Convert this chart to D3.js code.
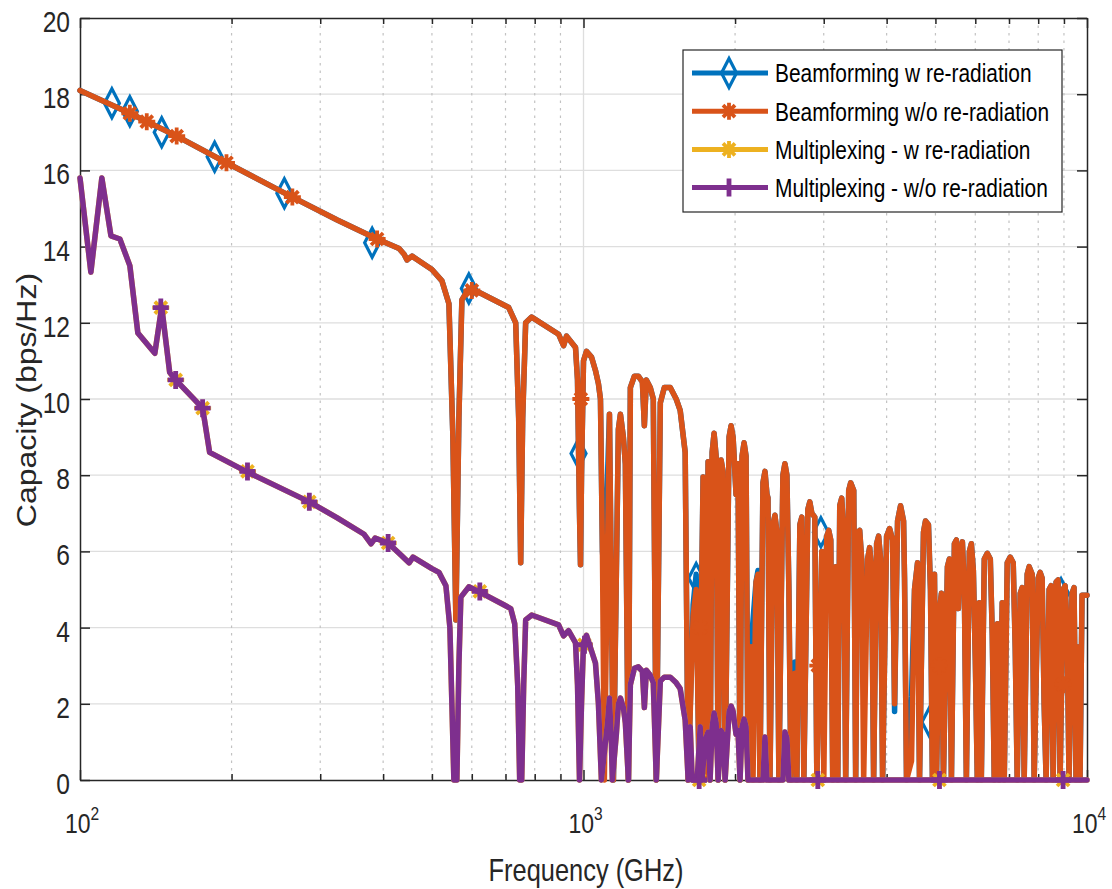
<!DOCTYPE html>
<html>
<head>
<meta charset="utf-8">
<script src="https://cdn.jsdelivr.net/npm/d3@7"></script>
<style>
  body { margin: 0; background: #fff; }
  text { font-family: "Liberation Sans", Arial, Helvetica, sans-serif; }
</style>
</head>
<body>
<svg id="chart" width="1112" height="889"></svg>
<script>
// ---- data (frequency in GHz, capacity in bps/Hz) ----

// beamforming curves share one frequency grid
const bfFreq = [
  100, 125.6, 155.6, 195.4, 264.1, 324.3, 389.1, 430.2, 440.2, 446.2, 456.5, 500.0, 523.4, 540.4, 550.3,
  557.9, 565.6, 573.4, 591.9, 619.6, 710.4, 733.4, 743.5, 750.3, 757.2, 767.6, 788.9, 892.3, 912.9, 925.4,
  964.2, 973.0, 981.9, 986.4, 990.9, 1000, 1013.8, 1037.2, 1056.2, 1070.7, 1080.6, 1090.5, 1100,
  1126, 1146.6, 1173, 1184, 1200, 1211, 1228, 1239, 1262, 1285, 1309, 1321, 1333, 1357, 1376, 1395,
  1421, 1447, 1487, 1528, 1556, 1592, 1614,
  1651, 1674, 1697, 1728, 1744, 1768, 1784, 1801, 1817, 1834, 1851, 1876, 1893, 1911, 1946, 1964, 1982,
  2009, 2027, 2046, 2065, 2084, 2103, 2122, 2151, 2171, 2201, 2221, 2241, 2272, 2293, 2314, 2325, 2346,
  2378, 2400, 2422, 2444, 2489, 2512, 2535, 2558, 2582, 2629, 2653,
  2690, 2714, 2739, 2790, 2815, 2841, 2880, 2907, 2974, 3001, 3042, 3070, 3098, 3126, 3170, 3199, 3228,
  3257, 3287, 3317, 3363, 3394, 3441, 3472, 3504, 3536, 3568, 3601, 3667, 3701, 3735, 3769, 3821, 3856,
  3891, 3927, 3999, 4054, 4110, 4148, 4205, 4263, 4322, 4341, 4381,
  4482, 4544, 4607, 4649, 4734, 4778, 4843, 4888, 4932, 4978, 5023, 5093, 5139, 5186, 5282, 5330, 5379,
  5453, 5503, 5553, 5604, 5656, 5707, 5760, 5839, 5893, 5947, 6001, 6056, 6111, 6167, 6252, 6338, 6426,
  6485, 6544, 6640, 6695, 6787, 6849, 6944, 7039, 7136, 7202, 7268, 7368, 7435, 7503, 7607, 7676, 7782,
  7853, 7998, 8071, 8145, 8220, 8295, 8409, 8486, 8564, 8682, 8761, 8842, 8964, 9046, 9129, 9212, 9339,
  9425, 9511, 9642, 9686, 9775, 10000
];

const bfWoCap = [
  18.1, 17.5, 16.9, 16.2, 15.3, 14.7, 14.2, 13.95, 13.8, 13.65, 13.75, 13.4, 13.1, 12.5, 9.0,
  4.2, 9.5, 12.6, 12.9, 12.8, 12.4, 12.0, 9.5, 5.7, 9.5, 12.0, 12.15, 11.7, 11.4, 11.65,
  11.35, 10.5, 7.0, 5.65, 8.0, 11.0, 11.25, 11.1, 10.75, 10.4, 10.0, 6.0, 0,
  9.6, 0, 9.2, 9.6, 9.0, 8.3, 0, 10.3, 10.6, 10.6, 10.45, 9.3, 10.5, 10.3, 10.0, 0,
  9.9, 10.3, 10.3, 10.0, 9.7, 8.6, 0,
  4.3, 5.0, 0, 7.95, 0, 8.35, 0, 8.6, 9.1, 8.5, 0, 8.4, 8.1, 0, 9.0, 9.3, 9.0,
  7.5, 8.3, 0, 8.5, 8.85, 8.5, 0, 3.5, 0, 5.2, 5.4, 0, 7.8, 8.1, 7.5, 7.4, 0,
  6.7, 6.95, 6.5, 0, 8.0, 8.3, 8.0, 5.0, 0, 2.8, 0,
  6.7, 6.9, 0, 7.1, 7.3, 7.0, 6.9, 0, 6.0, 0, 6.4, 6.55, 6.3, 0, 5.6, 0, 7.2,
  7.4, 6.5, 0, 7.6, 7.8, 7.6, 0, 6.5, 6.55, 5.8, 0, 5.8, 6.1, 5.5, 0, 6.2, 6.4,
  5.8, 0, 6.4, 6.6, 6.3, 2.0, 6.8, 7.2, 6.8, 5.3, 0,
  0.5, 5.0, 5.7, 0, 6.5, 6.8, 6.7, 5.0, 0, 5.4, 0, 4.45, 4.9, 0, 5.6, 5.8, 0,
  6.2, 6.3, 4.5, 6.0, 6.25, 5.0, 0, 6.0, 6.2, 5.5, 3.15, 0, 4.65, 0, 5.8, 5.95, 5.8,
  3.8, 0, 4.1, 0, 4.65, 0, 5.7, 5.85, 5.7, 3.5, 0, 4.9, 5.05, 0, 5.4, 5.6, 5.4,
  0, 5.3, 5.45, 5.3, 2.0, 0, 5.0, 5.1, 0, 5.2, 5.25, 0, 5.0, 5.1, 4.0, 0, 4.9,
  5.05, 0, 3.5, 0, 4.85, 4.85
];

const bfWCap = [
  18.1, 17.5, 16.9, 16.2, 15.3, 14.7, 14.2, 13.95, 13.8, 13.65, 13.75, 13.4, 13.1, 12.5, 9.0,
  4.2, 9.5, 12.6, 12.9, 12.8, 12.4, 12.0, 9.5, 5.7, 9.5, 12.0, 12.15, 11.7, 11.4, 11.65,
  11.35, 10.5, 7.0, 5.65, 8.0, 11.0, 11.25, 11.1, 10.75, 10.4, 10.0, 6.0, 5.3,
  9.6, 0, 9.2, 9.6, 9.0, 8.3, 0, 10.3, 10.6, 10.6, 10.45, 9.3, 10.5, 10.3, 10.0, 0,
  9.9, 10.3, 10.3, 10.0, 9.7, 8.6, 0,
  4.6, 5.4, 0, 7.95, 0, 8.35, 0, 8.6, 9.1, 8.5, 0, 8.4, 8.1, 0, 9.0, 9.3, 9.0,
  7.5, 8.3, 0, 8.5, 8.85, 8.5, 0, 3.5, 4.2, 5.2, 5.5, 0, 7.8, 8.1, 7.5, 7.4, 0,
  6.7, 6.95, 6.5, 0, 8.0, 8.3, 8.0, 5.0, 0, 3.1, 0,
  6.7, 6.9, 0, 7.1, 7.3, 7.0, 6.9, 0, 6.0, 2.7, 6.4, 6.55, 6.3, 0, 5.6, 0, 7.2,
  7.4, 6.5, 0, 7.6, 7.8, 7.6, 0, 6.5, 6.55, 5.8, 2.4, 5.8, 6.1, 5.5, 0, 6.2, 6.4,
  5.8, 0, 6.4, 6.6, 6.3, 1.8, 6.8, 7.2, 6.8, 5.3, 0,
  2.2, 5.0, 5.7, 0, 6.5, 6.8, 6.7, 5.0, 0, 5.4, 0, 4.45, 4.9, 0, 5.6, 5.8, 0,
  6.2, 6.3, 4.5, 6.0, 6.25, 5.0, 0, 6.0, 6.2, 5.5, 3.15, 0, 4.65, 0, 5.8, 5.95, 5.8,
  3.8, 0, 4.1, 0, 4.65, 0, 5.7, 5.85, 5.7, 3.5, 0, 4.9, 5.05, 0, 5.4, 5.6, 5.4,
  0, 5.3, 5.45, 5.3, 2.0, 0, 5.0, 5.1, 0, 5.2, 5.25, 0, 5.0, 5.1, 4.0, 0, 4.9,
  5.05, 0, 3.5, 0, 4.85, 4.85
];

// multiplexing curves share another grid
const muxFreq = [
  100, 105.1, 110.5, 115.2, 120.0, 125.6, 130.3, 140.8, 145.3, 150.7, 154.9, 175.2, 180.9, 215.1, 285.4,
  324.3, 366.7, 378.6, 385.6, 409.2, 430.2, 450.3, 458.6, 500.0, 516.3, 533.0, 542.8, 547.8, 552.8, 560.4,
  565.6, 570.7, 591.9, 622.4, 694.4, 716.9, 730.1, 740.1, 746.9, 753.8, 760.7, 767.6, 788.9, 892.3, 912.9,
  933.9, 964.2, 973.0, 981.9, 990.9, 1000, 1013.8, 1056.2, 1070.7, 1085.4, 1116, 1126, 1136, 1141, 1162,
  1173, 1184, 1200, 1211, 1228, 1239, 1262, 1285, 1309, 1321, 1333, 1357, 1376, 1395, 1421, 1447, 1487,
  1528, 1556, 1592, 1614, 1629, 1644, 1682, 1705, 1720, 1744, 1768, 1784, 1801, 1817, 1834, 1851, 1876,
  1893, 1911, 1946, 1964, 1982, 2009, 2027, 2046, 2065, 2084, 2103, 2122, 2272, 2293, 2314, 2489, 2512,
  2535, 2558, 10000
];

const muxWoCap = [
  15.8, 13.33, 15.8, 14.28, 14.2, 13.5, 11.73, 11.2, 12.42, 10.7, 10.5, 9.76, 8.6, 8.08, 7.3,
  6.88, 6.45, 6.2, 6.35, 6.22, 5.95, 5.7, 5.85, 5.55, 5.45, 5.1, 4.0, 2.0, 0, 0,
  3.0, 4.8, 5.07, 4.93, 4.6, 4.5, 4.1, 2.5, 0, 0, 2.5, 4.2, 4.33, 4.07, 3.78,
  3.92, 3.6, 2.5, 0, 2.0, 3.6, 3.8, 3.07, 2.0, 0, 1.5, 2.15, 1.0, 0, 1.2,
  2.0, 2.15, 1.9, 1.5, 0, 2.5, 2.93, 2.97, 2.85, 1.9, 2.88, 2.75, 2.55, 0, 2.6, 2.7, 2.7,
  2.55, 2.4, 1.57, 0, 1.4, 0, 0, 1.4, 0, 1.05, 1.26, 0, 1.4, 1.76, 1.5, 0, 1.3,
  1.2, 0, 1.8, 1.94, 1.8, 1.2, 1.3, 0, 1.4, 1.6, 1.4, 0, 0, 1.13, 0, 0, 1.26,
  1.1, 0, 0
];

const muxWCap = [
  15.8, 13.33, 15.8, 14.28, 14.2, 13.5, 11.73, 11.2, 12.42, 10.7, 10.5, 9.76, 8.6, 8.08, 7.3,
  6.88, 6.45, 6.2, 6.35, 6.22, 5.95, 5.7, 5.85, 5.55, 5.45, 5.1, 4.0, 2.0, 0, 0,
  3.0, 4.8, 5.07, 4.93, 4.6, 4.5, 4.1, 2.5, 0, 0, 2.5, 4.2, 4.33, 4.07, 3.78,
  3.92, 3.6, 2.5, 0, 2.0, 3.6, 3.8, 3.07, 2.0, 0, 1.5, 2.15, 1.0, 0, 1.2,
  2.0, 2.15, 1.9, 1.5, 0, 2.5, 2.93, 2.97, 2.85, 1.9, 2.88, 2.75, 2.55, 0, 2.6, 2.7, 2.7,
  2.55, 2.4, 1.57, 0, 1.4, 0, 0, 1.4, 0, 1.05, 1.26, 0, 1.4, 1.76, 1.5, 0, 1.3,
  1.2, 0, 1.8, 1.94, 1.8, 1.2, 1.3, 0, 1.4, 1.6, 1.4, 0, 0, 1.13, 0, 0, 1.26,
  1.1, 0, 0
];

// marker positions
const bfWMarkFreq = [115.7, 125.6, 145.3, 185.1, 254.6, 380.4, 591.9, 977.5, 1674, 2961, 4866, 8881];
const bfWMarkCap = [17.76, 17.55, 17.0, 16.36, 15.4, 14.1, 12.9, 8.57, 5.3, 6.5, 1.52, 4.9];
const bfWoMarkFreq = [125.6, 135.7, 155.6, 195.4, 264.1, 389.1, 600.1, 988, 1705, 2920, 5093, 8964];
const bfWoMarkCap = [17.5, 17.28, 16.9, 16.2, 15.3, 14.2, 12.85, 10.0, 4.0, 3.0, 3.0, 2.5];
const muxMarkFreq = [144.7, 154.9, 175.2, 215.1, 285.4, 409.2, 622.4, 1004.6, 1697, 2920, 5093, 8964];
const muxWMarkCap = [12.4, 10.5, 9.76, 8.1, 7.3, 6.22, 4.95, 3.55, 0, 0, 0, 0];
const muxWoMarkCap = [12.4, 10.5, 9.76, 8.1, 7.3, 6.22, 4.95, 3.55, 0, 0, 0, 0];

const yTickVals = [0, 2, 4, 6, 8, 10, 12, 14, 16, 18, 20];
const seriesNames = [
  "Beamforming w re-radiation",
  "Beamforming w/o re-radiation",
  "Multiplexing - w re-radiation",
  "Multiplexing - w/o re-radiation"
];

// ---- drawing ----
const svg = d3.select("#chart");
const plot = {left: 80, right: 1087, top: 18, bottom: 780};
const SQ = 0.82;   // the source figure is squeezed horizontally
const axisColor = "#262626";
const colors = ["#0072BD", "#D95319", "#EDB120", "#7E2F8E"];

const x = d3.scaleLog().domain([100, 10000]).range([plot.left, plot.right]);
const y = d3.scaleLinear().domain([0, 20]).range([plot.bottom, plot.top]);

let isMajor = d => Math.abs(Math.log10(d) - Math.round(Math.log10(d))) < 1e-9;
const xTickVals = x.ticks();

// grid
let grid = svg.append("g");
grid.selectAll(".hgrid")
  .data(yTickVals.filter(v => v > 0 && v < 20))
  .join("line")
  .attr("x1", plot.left).attr("x2", plot.right)
  .attr("y1", d => y(d)).attr("y2", d => y(d))
  .attr("stroke", "#dedede").attr("stroke-width", 1.3);

grid.selectAll(".vgrid")
  .data(xTickVals.filter(v => v > 100 && v < 10000))
  .join("line")
  .attr("x1", d => x(d)).attr("x2", d => x(d))
  .attr("y1", plot.top).attr("y2", plot.bottom)
  .attr("stroke", d => isMajor(d) ? "#dedede" : "#c2c2c2")
  .attr("stroke-width", d => isMajor(d) ? 1.3 : 1.2)
  .attr("stroke-dasharray", d => isMajor(d) ? null : "2.5,5");

// axes
function styleAxis(g){
  g.select(".domain").attr("stroke", axisColor).attr("stroke-width", 1.5);
  g.selectAll(".tick line").attr("stroke", axisColor).attr("stroke-width", 1.5);
  g.selectAll("text").attr("fill", axisColor);
}

let gLeft = svg.append("g")
  .attr("transform", `translate(${plot.left},0)`)
  .call(d3.axisLeft(y).tickValues(yTickVals).tickSizeInner(-10).tickSizeOuter(0));
styleAxis(gLeft);
gLeft.selectAll(".tick text")
  .attr("x", -10 / SQ).attr("y", 13.5).attr("dy", null)
  .attr("transform", `scale(${SQ},1)`)
  .attr("font-family", "'Liberation Sans', Arial, sans-serif")
  .attr("font-size", 30)
  .attr("text-anchor", "end");

let gRight = svg.append("g")
  .attr("transform", `translate(${plot.right},0)`)
  .call(d3.axisRight(y).tickValues(yTickVals).tickSizeInner(-10).tickSizeOuter(0).tickFormat(""));
styleAxis(gRight);

let gTop = svg.append("g")
  .attr("transform", `translate(0,${plot.top})`)
  .call(d3.axisTop(x).tickValues(xTickVals).tickSizeInner(-6).tickSizeOuter(0).tickFormat(""));
styleAxis(gTop);
gTop.selectAll(".tick line").filter(d => isMajor(d)).attr("y2", 10);

let gBottom = svg.append("g")
  .attr("transform", `translate(0,${plot.bottom})`)
  .call(d3.axisBottom(x).tickValues(xTickVals).tickSizeInner(-6).tickSizeOuter(0).tickFormat(""));
styleAxis(gBottom);
gBottom.selectAll(".tick line").filter(d => isMajor(d)).attr("y2", -10);
gBottom.selectAll(".tick").filter(d => isMajor(d)).each(function(d){
  let t = d3.select(this).select("text")
    .attr("x", 1.5 / SQ).attr("y", 53).attr("dy", null)
    .attr("transform", `scale(${SQ},1)`)
    .attr("font-family", "'Liberation Sans', Arial, sans-serif")
    .attr("text-anchor", "middle")
    .attr("fill", axisColor);
  t.append("tspan").attr("font-size", 28).text("10");
  t.append("tspan").attr("font-size", 19).attr("dy", -13).text(Math.round(Math.log10(d)));
});

// axis titles
svg.append("text")
  .attr("transform", `scale(${SQ},1)`)
  .attr("x", 586 / SQ).attr("y", 881)
  .attr("text-anchor", "middle")
  .attr("font-size", 31)
  .attr("fill", axisColor)
  .text("Frequency (GHz)");

svg.append("text")
  .attr("transform", "translate(36,400) rotate(-90) scale(1,0.84)")
  .attr("text-anchor", "middle")
  .attr("font-size", 32)
  .attr("fill", axisColor)
  .text("Capacity (bps/Hz)");

// markers
const markerShapes = {
  diamond: {d: "M0,-14.5L7.5,0L0,14.5L-7.5,0Z", w: 3.2},
  asterisk: {d: "M-8.5,0H8.5M0,-8.5V8.5M-6,-6L6,6M-6,6L6,-6", w: 3.8},
  plus: {d: "M-8,0H8M0,-9V9", w: 4.8}
};

let line = d3.line().x(d => x(d[0])).y(d => y(d[1]));

function drawSeries(freq, cap, markFreq, markCap, color, shape){
  svg.append("path")
    .datum(d3.zip(freq, cap))
    .attr("d", line)
    .attr("fill", "none")
    .attr("stroke", color)
    .attr("stroke-width", 5.5)
    .attr("stroke-linejoin", "round")
    .attr("stroke-linecap", "round");

  svg.append("g").selectAll("path")
    .data(d3.zip(markFreq, markCap))
    .join("path")
    .attr("transform", d => `translate(${x(d[0])},${y(d[1])})`)
    .attr("d", markerShapes[shape].d)
    .attr("fill", "none")
    .attr("stroke", color)
    .attr("stroke-width", markerShapes[shape].w);
}

drawSeries(bfFreq, bfWCap, bfWMarkFreq, bfWMarkCap, colors[0], "diamond");
drawSeries(bfFreq, bfWoCap, bfWoMarkFreq, bfWoMarkCap, colors[1], "asterisk");
drawSeries(muxFreq, muxWCap, muxMarkFreq, muxWMarkCap, colors[2], "asterisk");
drawSeries(muxFreq, muxWoCap, muxMarkFreq, muxWoMarkCap, colors[3], "plus");

// legend
const legendShapes = ["diamond", "asterisk", "asterisk", "plus"];
let legend = svg.append("g");
legend.append("rect")
  .attr("x", 683).attr("y", 50).attr("width", 379).attr("height", 162)
  .attr("fill", "#fff").attr("stroke", axisColor).attr("stroke-width", 1.2);

seriesNames.forEach((name, i) => {
  let ly = 73 + i * 38.2;
  legend.append("line")
    .attr("x1", 692).attr("x2", 768).attr("y1", ly).attr("y2", ly)
    .attr("stroke", colors[i]).attr("stroke-width", 5);
  legend.append("path")
    .attr("transform", `translate(729,${ly})`)
    .attr("d", markerShapes[legendShapes[i]].d)
    .attr("fill", "none")
    .attr("stroke", colors[i])
    .attr("stroke-width", markerShapes[legendShapes[i]].w);
  legend.append("text")
    .attr("transform", `scale(${SQ},1)`)
    .attr("x", 775 / SQ).attr("y", ly + 9.5)
    .attr("font-size", 25.5)
    .attr("fill", "#000")
    .text(name);
});
</script>
</body>
</html>
